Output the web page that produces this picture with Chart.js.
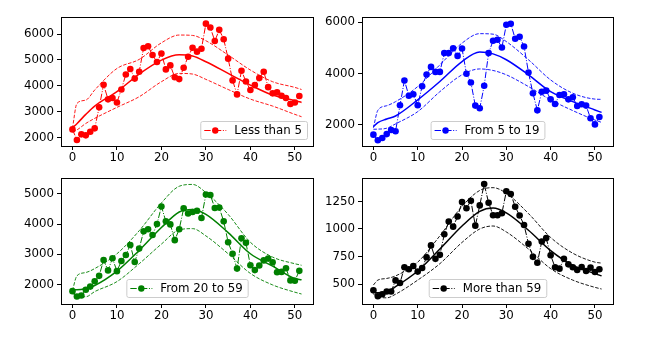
<!DOCTYPE html>
<html lang="en">
<head>
    <meta charset="UTF-8">
    <title>Cases by age group</title>
    <script src="https://cdn.jsdelivr.net/npm/chart.js"></script>
    <style>
        body { margin: 0; background: #ffffff; }
        #wrap { position: relative; width: 648px; height: 337px; }
        canvas { position: absolute; }
    </style>
</head>
<body>
<div id="wrap">
    <canvas id="c1" width="324" height="168" style="left:0;top:0"></canvas>
    <canvas id="c2" width="324" height="168" style="left:324px;top:0"></canvas>
    <canvas id="c3" width="324" height="169" style="left:0;top:168px"></canvas>
    <canvas id="c4" width="324" height="169" style="left:324px;top:168px"></canvas>
</div>
<script>
// weeks 0..51
const weeks = [0,1,2,3,4,5,6,7,8,9,10,11,12,13,14,15,16,17,18,19,20,21,22,23,24,25,
    26,27,28,29,30,31,32,33,34,35,36,37,38,39,40,41,42,43,44,45,46,47,48,49,50,51];
const fitWeeks = [0, 1, 3, 5, 10, 15, 20, 24, 27, 30, 35, 40, 45, 50, 51.5];
const xTicks = [0, 10, 20, 30, 40, 50];

// Less than 5
const under5 = [2320,1910,2130,2090,2230,2360,3170,4045,3480,3530,3360,3860,4440,4650,4280,4545,
    5460,5530,5190,4920,5250,4635,4790,4330,4260,4700,5120,5470,5320,5430,6400,6250,5730,6160,
    5800,5050,4210,3670,4580,4170,3840,4030,4300,4545,3950,3710,3750,3620,3530,3300,3360,3610];
const under5Fit = [2385,2540,2900,3220,3775,4455,4995,5200,5150,4930,4480,4030,3645,3430,3360];
const under5Up = [2360,3320,3450,3840,4670,5020,5660,5960,5945,5740,5190,4610,4160,3940,3860];
const under5Lo = [2230,2300,2550,2745,3170,3580,4160,4480,4455,4250,3860,3490,3220,2900,2810];

// From 5 to 19
const age5to19 = [1610,1390,1480,1630,1790,1740,2760,3730,3130,3190,2760,3500,3960,4260,4065,4065,
    4800,4800,4990,4690,4980,3990,3650,2745,2640,3520,4800,5280,5320,5020,5910,5950,5360,5440,
    5060,4040,3230,2560,3290,3330,2990,2810,3160,3190,2990,3070,2730,2800,2745,2250,2010,2300];
const age5to19Fit = [1920,2080,2220,2340,2970,3690,4470,4840,4770,4540,3950,3290,2900,2575,2480];
const age5to19Up = [1880,2560,2740,2900,3490,4340,5190,5560,5540,5250,4540,3750,3230,3000,2990];
const age5to19Lo = [1820,1825,1860,2030,2510,3290,3950,4180,4120,3950,3490,2970,2550,2180,2090];

// From 20 to 59
const age20to59 = [1785,1610,1640,1830,1935,2110,2290,2810,2470,2870,2445,2780,2980,3310,2750,3190,
    3760,3830,3640,4000,4580,4090,3990,3470,3830,4520,4350,4400,4440,4200,4980,4960,4530,4545,
    4090,3400,3020,2530,3530,3380,2640,2480,2630,2800,2860,2740,2410,2420,2540,2140,2130,2455];
const age20to59Fit = [1830,1830,1870,1970,2445,3130,3885,4400,4480,4320,3720,3020,2610,2200,2160];
const age20to59Up = [1805,2290,2400,2530,3020,3780,4700,5250,5310,5040,4320,3400,2910,2690,2640];
const age20to59Lo = [1720,1620,1600,1770,2100,2690,3340,3810,3850,3610,3020,2370,1990,1750,1690];

// More than 59
const over59 = [443,390,408,432,432,533,509,652,634,664,613,646,744,851,729,765,952,1068,1021,1113,
    1244,1188,1256,1030,1214,1408,1238,1125,1125,1143,1342,1318,1202,1122,1036,866,747,693,887,
    917,762,652,640,729,679,652,628,655,619,649,610,634];
const over59Fit = [426,420,430,476,619,818,1027,1160,1190,1146,988,804,670,595,574];
const over59Up = [491,536,551,574,699,938,1205,1350,1375,1324,1140,923,780,699,690];
const over59Lo = [408,385,375,408,536,685,878,1000,1027,973,818,640,536,470,455];

const FONT = '"DejaVu Sans", sans-serif';
const FSIZE = 11.8;

const boxPlugin = {
    id: 'boxLegend',
    afterDraw(chart) {
        const a = chart.chartArea, ctx = chart.ctx;
        const o = chart.options.plugins.boxLegend;
        ctx.save();
        // frame
        ctx.strokeStyle = '#000';
        ctx.lineWidth = 1;
        ctx.strokeRect(Math.round(a.left) + 0.5, Math.round(a.top) + 0.5,
            Math.round(a.right - a.left), Math.round(a.bottom - a.top));
        // legend
        ctx.font = FSIZE + 'px ' + FONT;
        const tw = ctx.measureText(o.label).width;
        const w = 4 + 22 + 8 + tw + 5, h = 18;
        const x = o.align === 'right' ? a.right - 6 - w : (a.left + a.right) / 2 - w / 2;
        const y = a.bottom - 7 - h;
        ctx.beginPath();
        ctx.roundRect(x + 0.5, y + 0.5, w, h, 2);
        ctx.fillStyle = 'rgba(255,255,255,0.8)';
        ctx.fill();
        ctx.strokeStyle = '#cccccc';
        ctx.stroke();
        const cy = y + h / 2 + 0.5;
        ctx.strokeStyle = o.color;
        ctx.setLineDash([6.4, 1.6, 1, 1.6]);
        ctx.beginPath();
        ctx.moveTo(x + 4, cy);
        ctx.lineTo(x + 26, cy);
        ctx.stroke();
        ctx.setLineDash([]);
        ctx.fillStyle = o.color;
        ctx.beginPath();
        ctx.arc(x + 15, cy, 3.2, 0, Math.PI * 2);
        ctx.fill();
        ctx.fillStyle = '#000';
        ctx.textBaseline = 'middle';
        ctx.fillText(o.label, x + 34, cy + 0.5);
        ctx.restore();
    }
};

function pts(xs, ys) {
    return xs.map((x, i) => ({ x: x, y: ys[i] }));
}

function makePanel(id, cfg) {
    const color = cfg.color;
    const bandStyle = {
        borderColor: color, borderWidth: 0.9, borderDash: [3.5, 1.6],
        pointRadius: 0, cubicInterpolationMode: 'monotone', fill: false
    };
    new Chart(document.getElementById(id), {
        type: 'line',
        data: {
            datasets: [
                Object.assign({ data: pts(fitWeeks, cfg.up) }, bandStyle),
                Object.assign({ data: pts(fitWeeks, cfg.lo) }, bandStyle),
                {
                    data: pts(fitWeeks, cfg.fit), borderColor: color, borderWidth: 1.5,
                    pointRadius: 0, cubicInterpolationMode: 'monotone'
                },
                {
                    data: pts(weeks, cfg.values), borderColor: color, borderWidth: 1,
                    borderDash: [6.4, 1.6, 1, 1.6], tension: 0,
                    pointRadius: 3.3, pointBackgroundColor: color, pointBorderWidth: 0
                }
            ]
        },
        options: {
            responsive: false,
            animation: false,
            devicePixelRatio: 1,
            layout: { padding: { left: 0, top: cfg.top, right: cfg.right, bottom: 0 } },
            plugins: {
                legend: { display: false },
                tooltip: { enabled: false },
                boxLegend: { label: cfg.label, color: color, align: cfg.align }
            },
            scales: {
                x: {
                    type: 'linear', min: -2.575, max: 54.075,
                    afterBuildTicks: s => { s.ticks = xTicks.map(v => ({ value: v })); },
                    afterFit: s => { s.height = cfg.xh; },
                    border: { display: false },
                    grid: { drawOnChartArea: false, tickLength: 4, color: '#000' },
                    ticks: { color: '#000', padding: 1, font: { family: FONT, size: FSIZE },
                        maxRotation: 0, callback: v => String(v) }
                },
                y: {
                    min: cfg.ymin, max: cfg.ymax,
                    afterBuildTicks: s => { s.ticks = cfg.yTicks.map(v => ({ value: v })); },
                    afterFit: s => { s.width = cfg.yw; },
                    border: { display: false },
                    grid: { drawOnChartArea: false, tickLength: 4, color: '#000' },
                    ticks: { color: '#000', padding: 3, font: { family: FONT, size: FSIZE },
                        callback: v => String(v) }
                }
            }
        },
        plugins: [boxPlugin]
    });
}

makePanel('c1', { color: '#ff0000', label: 'Less than 5', align: 'right',
    values: under5, fit: under5Fit, up: under5Up, lo: under5Lo,
    ymin: 1680, ymax: 6656, yTicks: [2000, 3000, 4000, 5000, 6000],
    top: 17, right: 11, yw: 61, xh: 22 });
makePanel('c2', { color: '#0000ff', label: 'From 5 to 19', align: 'center',
    values: age5to19, fit: age5to19Fit, up: age5to19Up, lo: age5to19Lo,
    ymin: 1165, ymax: 6212, yTicks: [2000, 4000, 6000],
    top: 17, right: 35, yw: 38, xh: 22 });
makePanel('c3', { color: '#008000', label: 'From 20 to 59', align: 'center',
    values: age20to59, fit: age20to59Fit, up: age20to59Up, lo: age20to59Lo,
    ymin: 1360, ymax: 5520, yTicks: [2000, 3000, 4000, 5000],
    top: 8, right: 11, yw: 61, xh: 33 });
makePanel('c4', { color: '#000000', label: 'More than 59', align: 'center',
    values: over59, fit: over59Fit, up: over59Up, lo: over59Lo,
    ymin: 319, ymax: 1462, yTicks: [500, 750, 1000, 1250],
    top: 8, right: 35, yw: 38, xh: 33 });
</script>
</body>
</html>
